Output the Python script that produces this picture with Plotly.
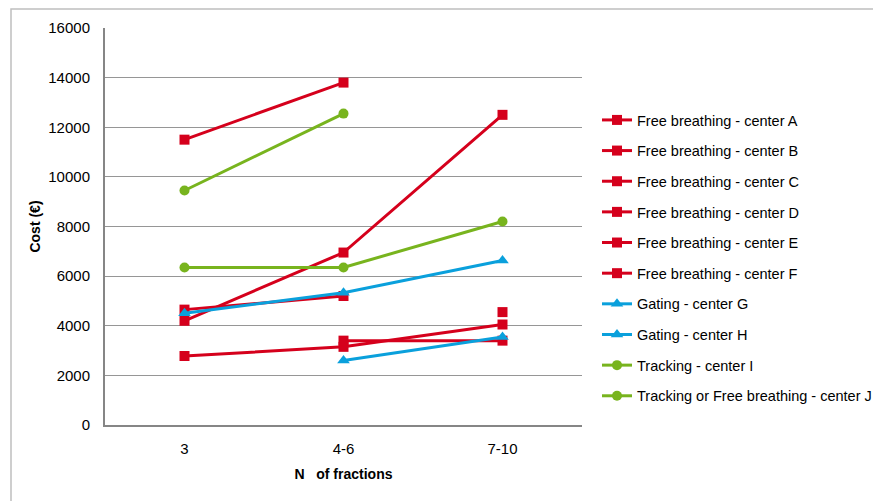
import plotly.graph_objects as go

categories = ["3", "4-6", "7-10"]

series_names = [
    "Free breathing - center A",
    "Free breathing - center B",
    "Free breathing - center C",
    "Free breathing - center D",
    "Free breathing - center E",
    "Free breathing - center F",
    "Gating - center G",
    "Gating - center H",
    "Tracking - center I",
    "Tracking or Free breathing - center J",
]

center_a = [11500, 13800, None]
center_b = [4200, 6950, 12500]
center_c = [4650, 5200, None]
center_d = [2780, 3150, 4050]
center_e = [None, 3400, 3400]
center_f = [None, None, 4550]
center_g = [4500, 5330, 6630]
center_h = [None, 2600, 3550]
center_i = [9450, 12550, None]
center_j = [6350, 6350, 8200]

series_values = [center_a, center_b, center_c, center_d, center_e,
                 center_f, center_g, center_h, center_i, center_j]

y_ticks = [0, 2000, 4000, 6000, 8000, 10000, 12000, 14000, 16000]

RED = "#D5001C"
BLUE = "#0AA0DC"
GREEN = "#78B41E"
styles = [(RED, "square", 10)] * 6 + [(BLUE, "triangle-up", 11)] * 2 + [(GREEN, "circle", 10)] * 2

fig = go.Figure()
for i, (name, vals) in enumerate(zip(series_names, series_values)):
    color, sym, size = styles[i]
    fig.add_trace(go.Scatter(
        x=categories, y=vals, name=name, mode="lines+markers",
        line=dict(color=color, width=3),
        marker=dict(symbol=sym, size=size, color=color),
        legendgroup=name,
        connectgaps=False,
    ))

FONT = "Liberation Sans, Arial, sans-serif"

# page body has an 8px margin: work in screen coordinates and subtract it
OFF = 8
L, R, T, B = 105 - OFF, 582 - OFF, 28 - OFF, 425 - OFF
W, H = 881 - OFF, 501 - OFF
pw, ph = R - L, B - T

def px_x(px):
    return (px - OFF - L) / pw

def px_y(py):
    return (B - (py - OFF)) / ph

fig.update_layout(
    width=W, height=H,
    margin=dict(l=L, r=W - R, t=T, b=H - B, pad=0, autoexpand=False),
    paper_bgcolor="white", plot_bgcolor="white",
    font=dict(family=FONT, size=13, color="#000000"),
    showlegend=True,
    legend=dict(
        x=px_x(597), xanchor="left",
        y=px_y(104), yanchor="top",
        font=dict(family=FONT, size=14.5, color="#000000"),
        tracegroupgap=8.8,
        itemwidth=30,
        bgcolor="rgba(0,0,0,0)",
    ),
    xaxis=dict(
        type="category",
        range=[-0.5, 2.5],
        showgrid=False,
        showline=True, linecolor="#868686", linewidth=2,
        ticks="", ticklabelstandoff=9,
        tickfont=dict(family=FONT, size=15),
        title=dict(text="N\u00a0\u00a0\u00a0of fractions", font=dict(family=FONT, size=14, weight="bold"), standoff=13),
        zeroline=False, automargin=False,
        fixedrange=True,
    ),
    yaxis=dict(
        range=[0, 16000],
        tickvals=y_ticks,
        ticktext=[str(v) for v in y_ticks],
        showgrid=True, gridcolor="#969696", gridwidth=1,
        showline=True, linecolor="#868686", linewidth=2,
        ticks="", ticklabelstandoff=10,
        tickfont=dict(family=FONT, size=15),
        title=dict(text="Cost (€)", font=dict(family=FONT, size=14, weight="bold"), standoff=4),
        zeroline=False, automargin=False,
        fixedrange=True,
    ),
    shapes=[dict(
        type="rect", xref="paper", yref="paper",
        x0=px_x(11), x1=px_x(920), y0=px_y(540), y1=px_y(9),
        line=dict(color="#BFBFBF", width=1.5), fillcolor="rgba(0,0,0,0)", layer="below",
    )],
)

fig.write_html("out.html")
